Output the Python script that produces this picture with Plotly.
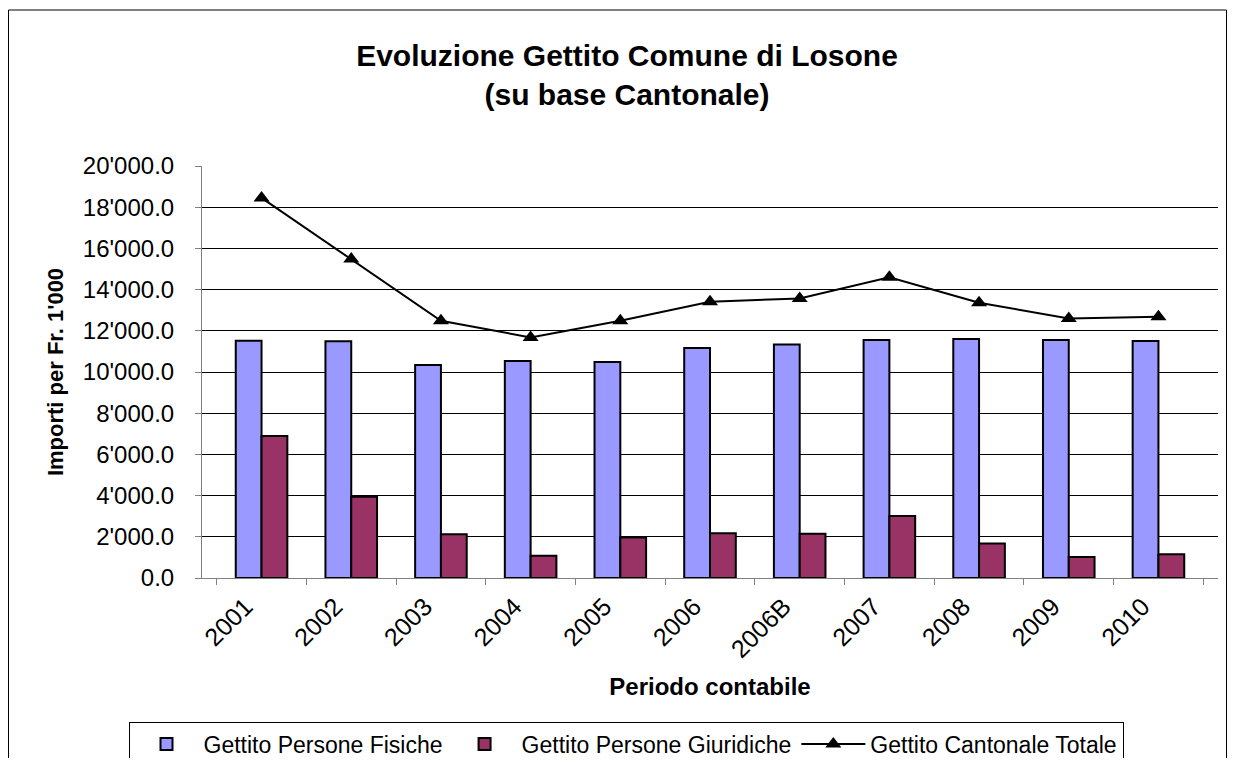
import plotly.graph_objects as go

years = ["2001", "2002", "2003", "2004", "2005", "2006", "2006B", "2007", "2008", "2009", "2010"]
fisiche = [11520, 11490, 10340, 10530, 10490, 11170, 11340, 11550, 11600, 11550, 11500]
giuridiche = [6890, 3950, 2120, 1080, 1970, 2170, 2150, 3010, 1680, 1020, 1150]
totale = [18450, 15480, 12490, 11680, 12490, 13410, 13570, 14600, 13360, 12600, 12680]

FONT = "Liberation Sans, Arial, sans-serif"

fig = go.Figure()
fig.add_trace(go.Bar(x=years, y=fisiche, name="Gettito Persone Fisiche",
                     marker=dict(color="#9999FF", line=dict(color="black", width=2))))
fig.add_trace(go.Bar(x=years, y=giuridiche, name="Gettito Persone Giuridiche",
                     marker=dict(color="#993366", line=dict(color="black", width=2))))
fig.add_trace(go.Scatter(x=years, y=totale, name="Gettito Cantonale Totale", mode="lines+markers",
                         line=dict(color="black", width=2),
                         marker=dict(symbol="triangle-up", size=14, color="black")))

# page body has an 8px margin, so the figure is sized/offset accordingly
W, H = 1219, 750
L, R, T, B = 194, 9, 158, 180
pw, ph = W - L - R, H - T - B

def px_x(p):
    return (p - L) / pw

def px_y(p):
    return (H - B - p) / ph

fig.update_layout(
    width=W, height=H,
    margin=dict(l=L, r=R, t=T, b=B),
    paper_bgcolor="white", plot_bgcolor="white",
    font=dict(family=FONT, color="black", size=22),
    separators=".'",
    barmode="group", bargap=0.425, bargroupgap=0,
    title=dict(text="<b>Evoluzione Gettito Comune di Losone<br>(su base Cantonale)</b>",
               x=619 / W, xanchor="center", xref="container",
               y=1 - 58 / H, yanchor="middle", yref="container",
               font=dict(size=30, family=FONT)),
    xaxis=dict(type="category", tickson="boundaries", ticks="outside", ticklen=6,
               tickcolor="#808080", showline=True, linecolor="#808080", linewidth=1,
               tickangle=-45, tickfont=dict(size=25),
               ticklabelshift=-16, ticklabelstandoff=3,
               title=dict(text="<b>Periodo contabile</b>", font=dict(size=24), standoff=16),
               showgrid=False),
    yaxis=dict(range=[0, 20000], dtick=2000, tickformat=",.1f", ticks="outside", ticklen=6,
               tickcolor="#808080", showline=True, linecolor="#808080", linewidth=1,
               showgrid=True, gridcolor="black", gridwidth=1, zeroline=False,
               tickfont=dict(size=24), ticklabelstandoff=16,
               title=dict(text="<b>Importi per Fr. 1'000</b>", font=dict(size=22), standoff=13)),
    legend=dict(orientation="h", xref="container", yref="container",
                x=618 / W, xanchor="center", y=(H - 736) / H, yanchor="middle",
                bordercolor="black", borderwidth=1, bgcolor="white",
                font=dict(size=23), itemwidth=64, tracegroupgap=0),
    shapes=[dict(type="rect", xref="paper", yref="paper", layer="below",
                 x0=px_x(0.5), x1=px_x(1218.5), y0=px_y(770), y1=px_y(2),
                 line=dict(color="black", width=1), fillcolor="rgba(0,0,0,0)")],
)

fig.write_html("out.html")
